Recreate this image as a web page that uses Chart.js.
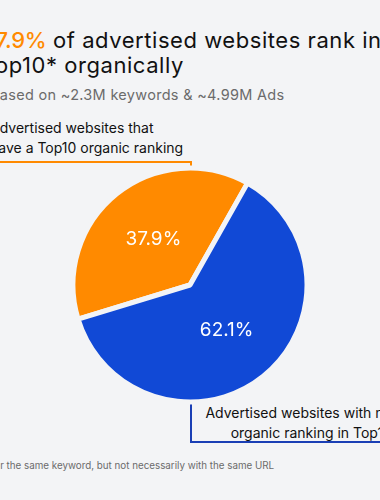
<!DOCTYPE html>
<html>
<head>
<meta charset="utf-8">
<script src="https://cdn.jsdelivr.net/npm/chart.js@4.4.1/dist/chart.umd.min.js"></script>
<style>
  html, body { margin:0; padding:0; }
  body { width:380px; height:500px; overflow:hidden; position:relative; background:#F3F4F6; font-family: Inter, "Noto Sans", sans-serif; color:#111; }
  .t { position:absolute; white-space:nowrap; }
  #title { left:-18px; top:28px; font-size:22px; line-height:25px; font-weight:400; letter-spacing:0.55px; }
  #title .hl { color:#FF8A00; font-weight:500; letter-spacing:-0.3px; }
  #sub { left:-10px; top:86px; font-size:14.5px; color:#6B6B6B; letter-spacing:0.3px; }
  #lblA { left:-10px; top:118px; font-size:14px; line-height:20px; }
  #lblB { right:-12px; top:403px; font-size:14px; line-height:20px; text-align:right; }
  #foot { left:-44px; top:460px; font-size:9.8px; color:#6B6B6B; }
  .ln { position:absolute; }
  #chartWrap { position:absolute; left:70px; top:165px; width:240px; height:240px; }
</style>
</head>
<body>
<div class="t" id="title"><span class="hl">37.9%</span> of advertised websites rank in<br>Top10* organically</div>
<div class="t" id="sub">Based on ~2.3M keywords &amp; ~4.99M Ads</div>
<div class="t" id="lblA">Advertised websites that<br>have a Top10 organic ranking</div>
<div class="t" id="lblB">Advertised websites with no<br>organic ranking in Top10</div>
<div class="t" id="foot">*Top10 for the same keyword, but not necessarily with the same URL</div>

<div class="ln" style="left:-2px; top:161px; width:194px; height:2px; background:#FF8A00"></div>
<div class="ln" style="left:190px; top:161px; width:2px; height:12px; background:#FF8A00"></div>
<div class="ln" style="left:190px; top:394px; width:2px; height:49px; background:#1A3FB5"></div>
<div class="ln" style="left:190px; top:441px; width:200px; height:2px; background:#1A3FB5"></div>

<div id="chartWrap"><canvas id="c"></canvas></div>

<script>
const categories = ["Advertised websites that have a Top10 organic ranking", "Advertised websites with no organic ranking in Top10"];
const shares = [37.9, 62.1];
const sliceColors = ["#FF8A00", "#1149D6"];
const valueLabels = ["37.9%", "62.1%"];

const labelPlugin = {
  id: 'sliceLabels',
  afterDatasetsDraw(chart) {
    const ctx = chart.ctx;
    const meta = chart.getDatasetMeta(0);
    ctx.save();
    ctx.fillStyle = '#FFFFFF';
    ctx.font = '400 19px Inter, "Noto Sans", sans-serif';
    ctx.textAlign = 'center';
    ctx.textBaseline = 'middle';
    meta.data.forEach((arc, i) => {
      const p = arc.tooltipPosition();
      ctx.fillText(valueLabels[i], p.x, p.y);
    });
    ctx.restore();
  }
};

new Chart(document.getElementById('c'), {
  type: 'pie',
  data: {
    labels: categories,
    datasets: [{
      data: shares,
      backgroundColor: sliceColors,
      borderColor: '#F3F4F6',
      borderWidth: 5,
      hoverOffset: 0
    }]
  },
  options: {
    responsive: true,
    maintainAspectRatio: false,
    animation: false,
    rotation: 253,
    radius: 117,
    layout: { padding: 0 },
    plugins: { legend: { display: false }, tooltip: { enabled: false } },
    events: []
  },
  plugins: [labelPlugin]
});
</script>
</body>
</html>
